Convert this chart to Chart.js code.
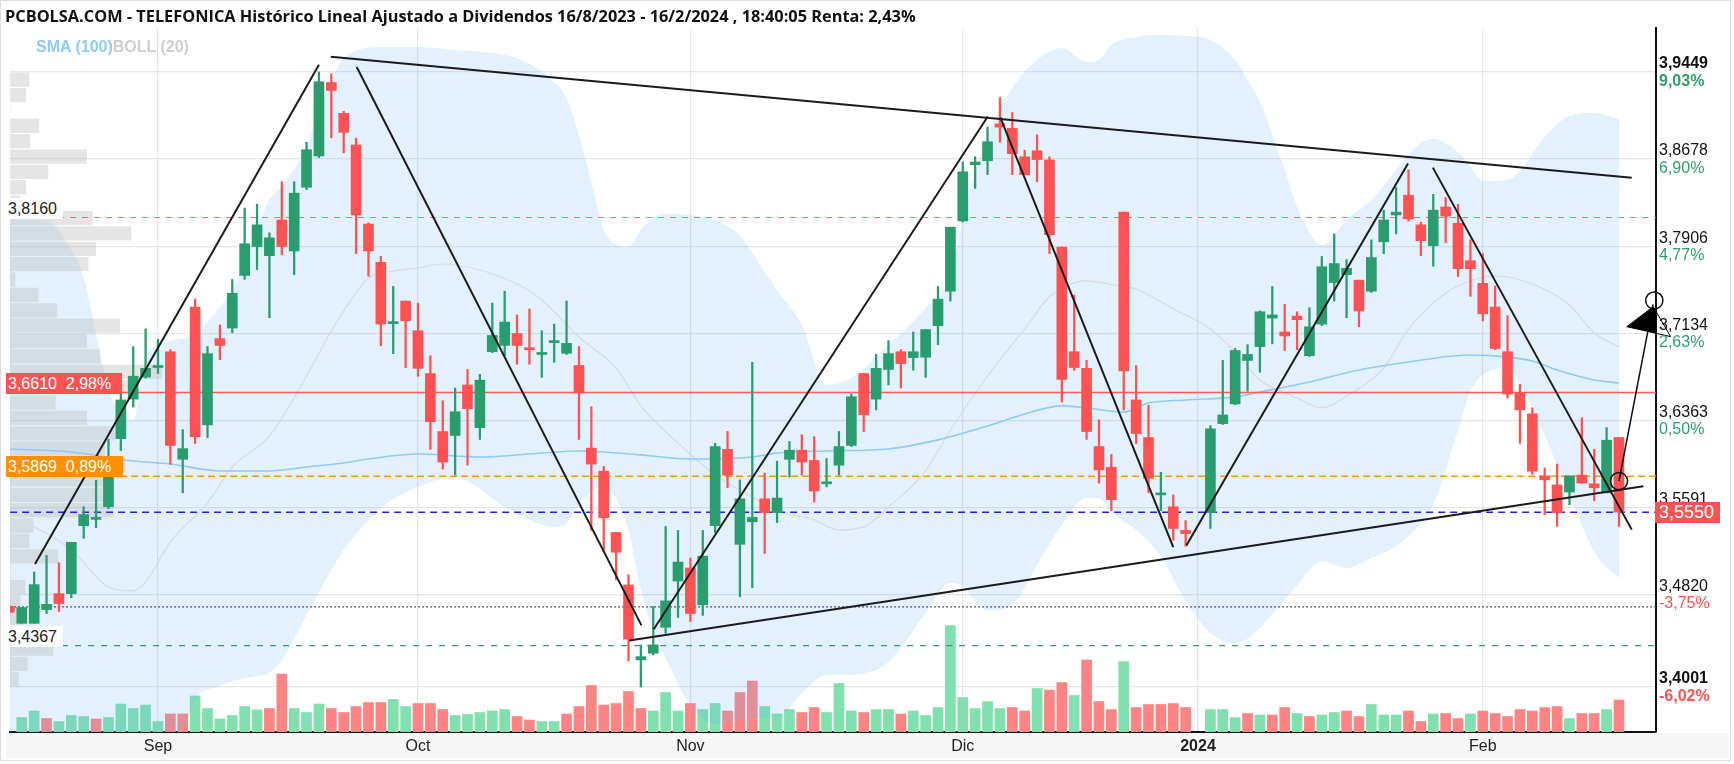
<!DOCTYPE html>
<html>
<head>
<meta charset="utf-8">
<title>TELEFONICA</title>
<script src="https://cdn.jsdelivr.net/npm/chart.js@4.4.1/dist/chart.umd.min.js"></script>
<style>
  html, body { margin: 0; padding: 0; background: #fff; }
  #wrap { position: relative; width: 1734px; height: 764px; overflow: hidden; font-family: 'Liberation Sans', Arial, sans-serif; }
  #frame { position: absolute; left: 0; top: 0; width: 1731px; height: 761px; border: 1px solid #e4dada; box-sizing: border-box; }
  #strip { position: absolute; left: 6px; top: 733px; width: 1723px; height: 25px; background: #f7f7f7; }
  #chart { position: absolute; left: 0; top: 0; }
  #title { position: absolute; left: 5px; top: 5px; font-weight: bold; font-size: 16px; font-family: 'Open Sans', sans-serif; color: #111; white-space: nowrap; line-height: 22px; }
  #legend { position: absolute; left: 36px; top: 37px; font-weight: bold; font-size: 16px; white-space: nowrap; line-height: 20px; }
  .tag { position: absolute; font-size: 16px; line-height: 21px; height: 21px; white-space: nowrap; }
  .pct { position: absolute; left: 1659px; font-size: 16px; line-height: 16px; white-space: nowrap; }
</style>
</head>
<body>
<div id="wrap">
  <div id="frame"></div>
  <div id="strip"></div>
  <canvas id="chart" width="1734" height="764"></canvas>
  <div id="title">PCBOLSA.COM - TELEFONICA Histórico Lineal Ajustado a Dividendos 16/8/2023 - 16/2/2024 , 18:40:05 Renta: 2,43%</div>
  <div id="legend"><span style="color:#90caf9">SMA (100)</span><span style="color:#cfcfcf">BOLL (20)</span></div>
</div>
<script>
// ── daily candles, index 0 = 16/8/2023 ... 130 = 16/2/2024 (96 = 1/1, no session)
const openP = [3.4715,3.4565,3.4565,3.4687,3.4828,3.4828,3.5430,3.5486,3.5598,3.6201,
  3.6551,3.6747,3.6831,3.6971,3.6018,3.7367,3.6323,3.7087,3.7181,3.7647,
  3.7903,3.7822,3.8138,3.7864,3.8428,3.8705,3.9356,3.9083,3.8803,3.8102,
  3.7763,3.7220,3.7420,3.7157,3.6778,3.6264,3.6229,3.6677,3.6299,3.6971,
  3.7027,3.7132,3.7006,3.6947,3.7052,3.6957,3.6849,3.6117,3.5913,3.5370,
  3.4905,3.4241,3.4300,3.4530,3.4940,3.5055,3.4729,3.5430,3.6106,3.5265,
  3.5465,3.5668,3.5546,3.6018,3.6099,3.6008,3.5801,3.5966,3.6141,3.6778,
  3.6551,3.6814,3.6971,3.6919,3.6922,3.7202,3.7507,3.8130,3.8628,3.8663,
  3.8989,3.8950,3.8698,3.8751,3.8670,3.7899,3.6971,3.6824,3.6131,3.5948,
  3.8208,3.6544,3.6211,3.5703,3.5598,3.5388,null,3.5546,3.6334,3.6509,
  3.6894,3.7017,3.7269,3.7146,3.7286,3.6936,3.7216,3.7584,3.7654,3.7605,
  3.7507,3.7945,3.8183,3.8358,3.8095,3.7910,3.8253,3.8109,3.7777,3.7577,
  3.7367,3.6971,3.6607,3.6421,3.5871,3.5791,3.5728,3.5878,3.5801,3.5721,
  3.6211];
const highP = [3.4720,3.4705,3.5020,3.5167,3.5101,3.5283,3.5598,3.5833,3.6194,3.6596,
  3.7017,3.7174,3.7080,3.6989,3.6281,3.7437,3.7017,3.7209,3.7612,3.8243,
  3.8278,3.8025,3.8477,3.8477,3.8827,3.9449,3.9433,3.9101,3.8863,3.8113,
  3.7815,3.7549,3.7420,3.7402,3.6936,3.6537,3.6649,3.6814,3.6771,3.7402,
  3.7507,3.7297,3.7349,3.7157,3.7216,3.7420,3.7017,3.6484,3.5955,3.5370,
  3.4996,3.4374,3.4713,3.5423,3.5388,3.5143,3.5388,3.6159,3.6264,3.5836,
  3.6877,3.5896,3.6001,3.6176,3.6236,3.6218,3.6025,3.6264,3.6596,3.6778,
  3.6947,3.7069,3.6989,3.7146,3.7167,3.7549,3.8074,3.8652,3.8698,3.8961,
  3.9223,3.9090,3.8757,3.8891,3.8698,3.7899,3.7472,3.6894,3.6369,3.6061,
  3.8208,3.6849,3.6498,3.5903,3.5703,3.5475,null,3.6316,3.6894,3.6999,
  3.7034,3.7332,3.7549,3.7392,3.7325,3.7360,3.7815,3.8015,3.7787,3.7605,
  3.7962,3.8225,3.8428,3.8582,3.8120,3.8365,3.8337,3.8278,3.7962,3.7840,
  3.7553,3.7290,3.6684,3.6474,3.5941,3.5976,3.5871,3.6386,3.6106,3.6299,
  3.6211];
const lowP = [3.4660,3.4565,3.4565,3.4652,3.4670,3.4792,3.5318,3.5412,3.5581,3.6096,
  3.6481,3.6737,3.6778,3.5973,3.5721,3.6159,3.6211,3.6901,3.7139,3.7612,
  3.7700,3.7272,3.7829,3.7654,3.8407,3.8691,3.8866,3.8733,3.7840,3.7640,
  3.7024,3.6954,3.6831,3.6754,3.6106,3.5931,3.5878,3.5966,3.6194,3.6964,
  3.6936,3.6859,3.6859,3.6744,3.6877,3.6947,3.6194,3.5388,3.5213,3.4950,
  3.4232,3.4001,3.4285,3.4477,3.4617,3.4582,3.4635,3.5370,3.5766,3.4800,
  3.4880,3.5185,3.5458,3.5861,3.5878,3.5640,3.5773,3.5878,3.6131,3.6264,
  3.6456,3.6677,3.6649,3.6807,3.6744,3.7034,3.7420,3.8120,3.8418,3.8540,
  3.8828,3.8540,3.8540,3.8477,3.7840,3.6526,3.6807,3.6194,3.5808,3.5563,
  3.6456,3.6159,3.5721,3.5563,3.5300,3.5248,null,3.5406,3.6327,3.6502,
  3.6621,3.6789,3.7041,3.6982,3.6989,3.6929,3.7202,3.7420,3.7272,3.7192,
  3.7497,3.7840,3.8015,3.8127,3.7822,3.7728,3.7938,3.7637,3.7462,3.7244,
  3.6989,3.6561,3.6159,3.5885,3.5528,3.5423,3.5616,3.5808,3.5651,3.5721,
  3.5423];
const closeP = [3.4663,3.4705,3.4908,3.4733,3.4740,3.5283,3.5528,3.5500,3.5878,3.6544,
  3.6754,3.6824,3.6849,3.6141,3.6113,3.6218,3.6954,3.7027,3.7489,3.7927,
  3.8095,3.7980,3.7903,3.8376,3.8761,3.9363,3.9286,3.8915,3.8183,3.7864,
  3.7216,3.7237,3.7245,3.6824,3.6351,3.5994,3.6439,3.6467,3.6719,3.7115,
  3.7234,3.7027,3.6989,3.6961,3.7062,3.7045,3.6607,3.5976,3.5500,3.5195,
  3.4425,3.4270,3.4374,3.4764,3.5108,3.4652,3.5160,3.6131,3.5878,3.5668,
  3.5503,3.5546,3.5675,3.6099,3.5994,3.5738,3.5815,3.6131,3.6572,3.6414,
  3.6824,3.6954,3.6866,3.6971,3.7167,3.7437,3.8074,3.8565,3.8652,3.8831,
  3.8961,3.8726,3.8540,3.8673,3.8008,3.6726,3.6831,3.6264,3.5924,3.5661,
  3.6800,3.6246,3.5850,3.5721,3.5406,3.5360,null,3.6288,3.6411,3.6982,
  3.6947,3.7325,3.7297,3.7111,3.7255,3.7192,3.7724,3.7752,3.7710,3.7332,
  3.7805,3.8138,3.8208,3.8148,3.7955,3.8225,3.8173,3.7707,3.7707,3.7307,
  3.6999,3.6596,3.6456,3.5913,3.5836,3.5546,3.5871,3.5808,3.5766,3.6187,
  3.5550];

// volume (millions), direction vs previous close (1 = up)
const volume = [null,2.9,4.2,2.7,2.1,3.3,3.1,2.6,2.9,5.6,
  4.7,5.4,2.1,3.6,3.6,7.2,4.7,2.6,3.3,5.1,
  4.4,4.7,11.6,4.7,3.9,5.6,4.7,3.9,5.1,5.9,
  5.9,6.5,5.1,5.7,5.7,4.5,3.3,3.5,3.9,4.2,
  4.5,3.1,2.4,2.1,2.1,3.6,5.1,9.3,5.4,5.7,
  8.1,4.7,4.2,7.9,4.2,5.7,4.5,5.7,4.2,7.9,
  10.2,5.1,3.6,4.5,3.9,4.9,3.9,9.7,4.2,3.9,
  4.5,4.5,3.6,4.2,3.3,4.9,21.3,6.9,4.7,6.1,
  4.7,4.9,4.2,8.7,8.4,9.9,7.3,14.4,6.1,4.5,
  14.1,4.9,5.5,5.5,5.7,4.9,null,4.5,4.5,2.9,
  3.7,3.4,3.4,4.9,3.7,3.1,3.4,3.9,4.2,3.1,
  5.5,3.4,3.4,4.2,2.1,3.6,3.7,2.7,3.6,4.2,
  3.7,3.1,4.5,4.2,4.9,5.1,2.7,3.7,3.7,4.5,
  6.4];
const volUp = [0,1,1,0,1,1,1,0,1,1,
  1,1,1,0,0,1,1,1,1,1,
  1,0,0,1,1,1,0,0,0,0,
  0,1,1,0,0,0,1,1,1,1,
  1,0,0,1,1,0,0,0,0,0,
  0,0,1,1,1,0,1,1,0,0,
  0,1,1,1,0,0,1,1,1,0,
  1,1,0,1,1,1,1,1,1,1,
  1,0,0,1,0,0,1,0,0,0,
  1,0,0,0,0,0,0,1,1,1,
  0,1,0,0,1,0,1,1,0,0,
  1,1,1,0,0,1,0,0,1,0,
  0,0,0,0,0,0,1,0,0,1,
  0];

// Bollinger (20) envelope at these sessions
const bandIdx = [0,3,5,6,7,8,10,11,13,15,17,18,20,21,22,24,25,26,27,30,
  33,36,40,42,44,45,46,47,48,50,51,52,53,55,57,59,61,62,64,66,
  68,71,74,76,77,78,79,81,83,85,87,88,89,91,93,95,97,99,100,101,
  103,104,106,108,110,112,114,115,116,117,118,119,121,122,124,126,128,130];
const bandUpper = [3.8156,3.8138,3.7873,3.7625,3.7128,3.6632,3.6367,3.6916,3.7066,3.7128,
  3.7368,3.7518,3.8067,3.8315,3.8439,3.8785,3.9113,3.9361,3.9573,3.9671,
  3.9671,3.9644,3.9600,3.9520,3.9361,3.9219,3.8891,3.8475,3.8050,3.7899,
  3.8050,3.8156,3.8191,3.8183,3.8138,3.7997,3.7678,3.7518,3.7208,3.6677,
  3.6739,3.7031,3.7359,3.7642,3.8138,3.8563,3.8891,3.9307,3.9556,3.9662,
  3.9538,3.9556,3.9688,3.9759,3.9777,3.9768,3.9733,3.9556,3.9378,3.9184,
  3.8581,3.8262,3.7917,3.8138,3.8315,3.8581,3.8820,3.8856,3.8820,3.8741,
  3.8617,3.8484,3.8493,3.8572,3.8873,3.9060,3.9086,3.9033];
const bandLower = [3.3089,3.3045,3.3045,3.3045,3.3089,3.3089,3.3134,3.3178,3.3311,3.3886,
  3.4010,3.4055,3.4099,3.4126,3.4241,3.4639,3.4843,3.5038,3.5215,3.5587,
  3.5773,3.5853,3.5596,3.5481,3.5419,3.5454,3.5614,3.5738,3.5773,3.5392,
  3.4861,3.4506,3.4258,3.3842,3.3674,3.3709,3.3727,3.3727,3.3948,3.4108,
  3.4108,3.4223,3.4657,3.4923,3.4896,3.4763,3.4684,3.4728,3.5082,3.5437,
  3.5676,3.5676,3.5552,3.5392,3.5162,3.4763,3.4480,3.4391,3.4427,3.4524,
  3.4772,3.4905,3.5118,3.5056,3.5144,3.5251,3.5454,3.5614,3.5924,3.6278,
  3.6615,3.6765,3.6827,3.6694,3.6225,3.5702,3.5197,3.4967];
const midIdx = [0,2,5,8,10,11,13,16,18,21,24,26,28,29,31,33,35,38,41,43,
  46,49,51,54,57,60,62,65,67,69,71,74,76,79,82,84,87,90,91,94,
  97,99,101,104,106,108,111,113,116,118,120,123,126,128,130];
const midVals = [3.5490,3.5419,3.5215,3.4887,3.4852,3.4932,3.5286,3.5631,3.5950,3.6225,
  3.6756,3.7155,3.7492,3.7625,3.7686,3.7713,3.7748,3.7695,3.7571,3.7430,
  3.7102,3.6827,3.6491,3.6163,3.5880,3.5685,3.5561,3.5481,3.5392,3.5419,
  3.5596,3.5915,3.6278,3.6756,3.7173,3.7456,3.7598,3.7545,3.7527,3.7350,
  3.7173,3.6969,3.6721,3.6562,3.6473,3.6579,3.6827,3.7173,3.7492,3.7598,
  3.7642,3.7571,3.7385,3.7137,3.7013];
// SMA (100)
const smaIdx = [0,5,10,13,17,21,24,27,29,33,38,43,46,51,55,60,62,66,71,75,
  79,82,85,87,90,92,95,99,101,105,109,113,118,120,123,125,128,130];
const smaVals = [3.6110,3.6083,3.6003,3.5977,3.5915,3.5915,3.5950,3.5986,3.6021,3.6065,
  3.6039,3.6074,3.6092,3.6057,3.6021,3.6039,3.6074,3.6092,3.6110,3.6190,
  3.6313,3.6420,3.6491,3.6473,3.6437,3.6517,3.6544,3.6571,3.6615,3.6703,
  3.6809,3.6880,3.6942,3.6934,3.6889,3.6809,3.6721,3.6694];

// volume-at-price profile: 40 bins between the period low and high, top bin first
const profLow = 3.4001, profHigh = 3.9449;
const profVol = [23,19,0,35,24,93,46,19,12,100,147,104,95,6,34,57,133,93,109,184,
  145,55,93,127,115,139,117,119,125,28,23,58,0,18,12,15,36,52,21,10];

// horizontal levels
const levelPrices = [3.8160, 3.6610, 3.5869, 3.5550, 3.4710, 3.4367];

// hand-drawn trend lines (session index, price)
const trendX1 = [2.07, 28.05, 25.96, 52.04, 80.03, 95.06, 114.97, 50.06];
const trendP1 = [3.5091, 3.9493, 3.9585, 3.4512, 3.9048, 3.5254, 3.8602, 3.4413];
const trendX2 = [25.00, 51.05, 131.03, 79.02, 94.00, 112.96, 131.03, 131.97];
const trendP2 = [3.9514, 3.4547, 3.8512, 3.9055, 3.5241, 3.8638, 3.5395, 3.5780];
const arrowX = [130.0, 132.75];
const arrowP = [3.5826, 3.7390];
const headX = [132.77, 130.63, 134.17, 132.77];
const headP = [3.7370, 3.7193, 3.7105, 3.7370];
const ringX = [130.0, 132.85];
const ringP = [3.5825, 3.7425];

// axes
const monthIdx = [12, 33, 55, 77, 96, 119];
const monthNames = ['Sep', 'Oct', 'Nov', 'Dic', '2024', 'Feb'];
const priceTicks = [3.9449, 3.8678, 3.7906, 3.7134, 3.6363, 3.5591, 3.4820, 3.4001];
const pctTicks = ['9,03%', '6,90%', '4,77%', '2,63%', '0,50%', '-1,63%', '-3,75%', '-6,02%'];

const xMin = 0.056, xMax = 132.99;
const yMin = 3.36024, yMax = 3.98388;

Chart.defaults.font.family = "'Liberation Sans', Arial, sans-serif";
Chart.defaults.font.size = 16;

const GREEN = '#2a9d6f', RED = '#ff5353';
const fmt = v => v.toFixed(4).replace('.', ',');
const sessions = openP.map((v, i) => (v == null ? -1 : i)).filter(i => i >= 0);
const volSessions = volume.map((v, i) => (v == null ? -1 : i)).filter(i => i >= 0);
const candleColor = i => (closeP[i] >= openP[i] ? GREEN : RED);
const pts = (xs, ys) => xs.map((x, k) => ({ x, y: ys[k] }));
const isEnd = v => v === priceTicks[0] || v === priceTicks[priceTicks.length - 1];

const datasets = [];

// volume bars at the foot
datasets.push({
  type: 'bar', yAxisID: 'yv', order: 14, grouped: false, barThickness: 10,
  data: volSessions.map(i => ({ x: i, y: volume[i] })),
  backgroundColor: volSessions.map(i => (volUp[i] ? '#80e0ae' : '#ff8585'))
});

// Bollinger envelope
datasets.push({
  type: 'line', order: 13, data: pts(bandIdx, bandUpper),
  borderColor: 'rgba(0,0,0,0)', borderWidth: 1, pointRadius: 0,
  cubicInterpolationMode: 'monotone', fill: false
});
datasets.push({
  type: 'line', order: 12, data: pts(bandIdx, bandLower),
  borderColor: 'rgba(0,0,0,0)', borderWidth: 1, pointRadius: 0,
  cubicInterpolationMode: 'monotone', fill: '-1',
  backgroundColor: 'rgba(100,181,246,0.19)'
});

// volume profile on the left
const binStep = (profHigh - profLow) / profVol.length;
datasets.push({
  type: 'bar', indexAxis: 'y', xAxisID: 'xp', yAxisID: 'y', order: 11,
  grouped: false, barThickness: 13.7,
  data: profVol.map((v, k) => ({ y: profHigh - (k + 0.5) * binStep, x: v })),
  backgroundColor: 'rgba(191,191,191,0.4)'
});

// BOLL middle and SMA 100
datasets.push({
  type: 'line', order: 10, data: pts(midIdx, midVals),
  borderColor: '#dadada', borderWidth: 1.2, pointRadius: 0, cubicInterpolationMode: 'monotone'
});
datasets.push({
  type: 'line', order: 9, data: pts(smaIdx, smaVals),
  borderColor: '#90caf9', borderWidth: 1.6, pointRadius: 0, cubicInterpolationMode: 'monotone'
});

// level lines
const levelStyle = [
  { c: '#ff6b6b', w: 1.2, d: [6, 6] },
  { c: '#ff5a5a', w: 1.5, d: [] },
  { c: '#ff9800', w: 1.5, d: [7, 4] },
  { c: '#2424e8', w: 1.5, d: [7, 5] },
  { c: '#555555', w: 1.2, d: [2, 2] },
  { c: '#2e9e6e', w: 1.2, d: [6, 7] }
];
levelPrices.forEach((p, k) => datasets.push({
  type: 'line', order: 8, data: [{ x: xMin, y: p }, { x: xMax, y: p }],
  borderColor: levelStyle[k].c, borderWidth: levelStyle[k].w, borderDash: levelStyle[k].d,
  pointRadius: 0
}));

// candles: wick then body
datasets.push({
  type: 'bar', order: 3, grouped: false, barThickness: 1.6, minBarLength: 1,
  data: sessions.map(i => ({ x: i, y: [lowP[i], highP[i]] })),
  backgroundColor: sessions.map(candleColor)
});
datasets.push({
  type: 'bar', order: 2, grouped: false, barThickness: 10, minBarLength: 2,
  data: sessions.map(i => ({ x: i, y: [openP[i], closeP[i]] })),
  backgroundColor: sessions.map(candleColor)
});

// trend lines, arrow, rings
trendX1.forEach((x, k) => datasets.push({
  type: 'line', order: 1, clip: false,
  data: [{ x, y: trendP1[k] }, { x: trendX2[k], y: trendP2[k] }],
  borderColor: '#1b1b1b', borderWidth: 2, pointRadius: 0
}));
datasets.push({
  type: 'line', order: 1, clip: false, data: pts(arrowX, arrowP),
  borderColor: '#111', borderWidth: 1.5, pointRadius: 0
});
datasets.push({
  type: 'line', order: 0, clip: false, data: pts(headX, headP),
  borderColor: '#000', borderWidth: 1, pointRadius: 0, tension: 0,
  fill: 'shape', backgroundColor: '#000'
});
datasets.push({
  type: 'line', order: 0, clip: false, showLine: false, data: pts(ringX, ringP),
  pointRadius: 8.6, pointBorderColor: '#111', pointBorderWidth: 1.5,
  pointBackgroundColor: 'rgba(0,0,0,0)'
});

const chart = new Chart(document.getElementById('chart'), {
  type: 'bar',
  data: { datasets },
  options: {
    responsive: false,
    animation: false,
    devicePixelRatio: 1,
    layout: { padding: { left: 5, top: 28, right: 0, bottom: 0 } },
    plugins: { legend: { display: false }, tooltip: { enabled: false } },
    scales: {
      x: {
        type: 'linear', min: xMin, max: xMax, offset: false, bounds: 'data',
        afterBuildTicks: s => { s.ticks = monthIdx.map(v => ({ value: v })); },
        afterFit: s => { s.height = 32; },
        grid: { color: '#e6e6e6', lineWidth: 1.3, drawTicks: false, offset: false },
        border: { color: '#111', width: 2 },
        ticks: {
          autoSkip: false, maxRotation: 0, padding: 5, color: '#222',
          font: ctx => ({ size: 16, weight: ctx.tick && ctx.tick.value === 96 ? 'bold' : 'normal' }),
          callback: v => monthNames[monthIdx.indexOf(v)]
        }
      },
      y: {
        type: 'linear', position: 'right', min: yMin, max: yMax, bounds: 'data', offset: false,
        afterBuildTicks: s => { s.ticks = priceTicks.map(v => ({ value: v })); },
        afterFit: s => { s.width = 78; },
        grid: { color: '#e6e6e6', lineWidth: 1.3, drawTicks: false, offset: false },
        border: { color: '#111', width: 2 },
        ticks: {
          padding: 3, color: '#111',
          font: ctx => ({ size: 16, lineHeight: 1, weight: ctx.tick && isEnd(ctx.tick.value) ? 'bold' : 'normal' }),
          callback: v => [fmt(v), ' ']
        }
      },
      yv: { type: 'linear', display: false, min: 0, max: 140.8, offset: false },
      xp: { type: 'linear', display: false, min: 0, max: 2000, offset: false, grid: { offset: false } }
    }
  }
});

const ys = chart.scales.y;
const wrap = document.getElementById('wrap');

// percentage line under each price tick
priceTicks.forEach((v, k) => {
  const el = document.createElement('div');
  el.className = 'pct';
  el.textContent = pctTicks[k];
  el.style.color = pctTicks[k].startsWith('-') ? '#ff5252' : '#2e9e6e';
  if (isEnd(v)) el.style.fontWeight = 'bold';
  el.style.top = (ys.getPixelForValue(v) + 0.5) + 'px';
  wrap.appendChild(el);
});

// price tags placed from the price scale
const tags = [
  { p: 3.8160, t: '3,8160', bg: '#fff', fg: '#222', dy: -9, left: 6, pad: '0 6px 0 2px', size: 16 },
  { p: 3.6610, t: '3,6610\u00a0\u00a02,98%', bg: '#ff5252', fg: '#fff', dy: -9, left: 6, pad: '0 11px 0 2px', size: 16 },
  { p: 3.5869, t: '3,5869\u00a0\u00a00,89%', bg: '#ff9100', fg: '#fff', dy: -10, left: 6, pad: '0 12px 0 2px', size: 16 },
  { p: 3.4367, t: '3,4367', bg: '#fff', fg: '#222', dy: -9, left: 6, pad: '0 6px 0 2px', size: 16 },
  { p: 3.5550, t: '3,5550', bg: '#ff5252', fg: '#fff', dy: 0, left: 1655, pad: '0 6px 0 4px', size: 18 }
];
tags.forEach(g => {
  const el = document.createElement('div');
  el.className = 'tag';
  el.textContent = g.t;
  el.style.background = g.bg;
  el.style.color = g.fg;
  el.style.padding = g.pad;
  el.style.fontSize = g.size + 'px';
  el.style.left = g.left + 'px';
  el.style.top = (ys.getPixelForValue(g.p) + g.dy - 10.5) + 'px';
  wrap.appendChild(el);
});

// title stretched to the width it has in the source
const title = document.getElementById('title');
title.style.fontSize = (16 * 911 / title.offsetWidth).toFixed(2) + 'px';
</script>
</body>
</html>
